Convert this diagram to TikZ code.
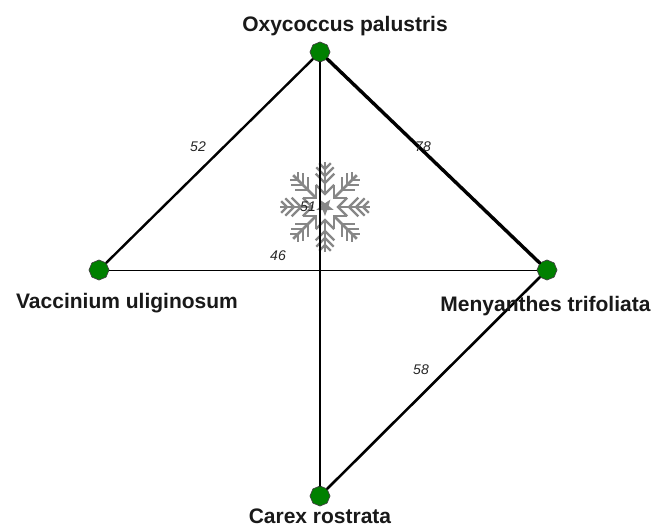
\documentclass[tikz,border=0pt]{standalone}
\usepackage{fontspec}
\usetikzlibrary{shapes.geometric}
\setmainfont{Liberation Sans}
\definecolor{nodegreen}{RGB}{0,128,0}
\tikzset{
  px/.style={x=1pt,y=-1pt},
  taxon/.style={regular polygon,regular polygon sides=8,shape border rotate=22.5,draw=black!75,fill=nodegreen,line width=0.7pt,minimum size=20pt,inner sep=0pt},
  lab/.style={font=\fontsize{21}{24}\selectfont\bfseries,text=black!90,inner sep=0pt,anchor=center},
  num/.style={font=\fontsize{14}{16}\selectfont\itshape,text=black!85,inner sep=0pt,anchor=center},
  link/.style={draw=black,line cap=round},
  flake/.style={draw=black!47,line width=2.8pt},
  twig/.style={draw=black!47,line width=2.3pt},
}
\begin{document}
\begin{tikzpicture}[px]
\useasboundingbox (0,0) rectangle (653,527);
\fill[white] (0,0) rectangle (653,527);
% snowflake
\begin{scope}[shift={(325,207)}]
  \foreach \a in {0,45,...,315}{
    \begin{scope}[rotate=\a]
      \draw[flake] (13,0) -- (45,0);
      \foreach \r/\l in {24/13,31/12,38/8}{
        \draw[twig] (\r,0) -- ++(\l*0.72,\l*0.72);
        \draw[twig] (\r,0) -- ++(\l*0.72,-\l*0.72);
      }
      \draw[twig,line join=miter] (22.2,-9.2) -- (13,0) -- (22.2,9.2);
    \end{scope}
  }
  \fill[black!47] (90:9)
    \foreach \k in {1,...,4}{ -- (90+\k*72-36:3.8) -- (90+\k*72:9)} -- (90+4*72+36:3.8) -- cycle;
\end{scope}
% nodes
\node[taxon] (O) at (320,52) {};
\node[taxon] (V) at (99,270) {};
\node[taxon] (M) at (547,270) {};
\node[taxon] (C) at (320,496) {};
% connectors
\draw[link,line width=2.4pt] (O) -- (V);
\draw[link,line width=3.4pt] (O) -- (M);
\draw[link,line width=2.9pt] (O) -- (C);
\draw[link,line width=0.8pt] (V) -- (M);
\draw[link,line width=2.6pt] (M) -- (C);
% labels
\node[lab] (tO) at (345,26) {Oxycoccus palustris};
\node[lab] (tV) at (127,303.5) {Vaccinium uliginosum};
\node[lab] (tM) at (545.5,306.5) {Menyanthes trifoliata};
\node[lab] (tC) at (320,516.5) {Carex rostrata};
\node[num] (n52) at (198,147) {52};
\node[num] (n78) at (423,147) {78};
\node[num] (n51) at (308,207) {51};
\node[num] (n46) at (278,256) {46};
\node[num] (n58) at (421,370) {58};
\end{tikzpicture}
\end{document}
